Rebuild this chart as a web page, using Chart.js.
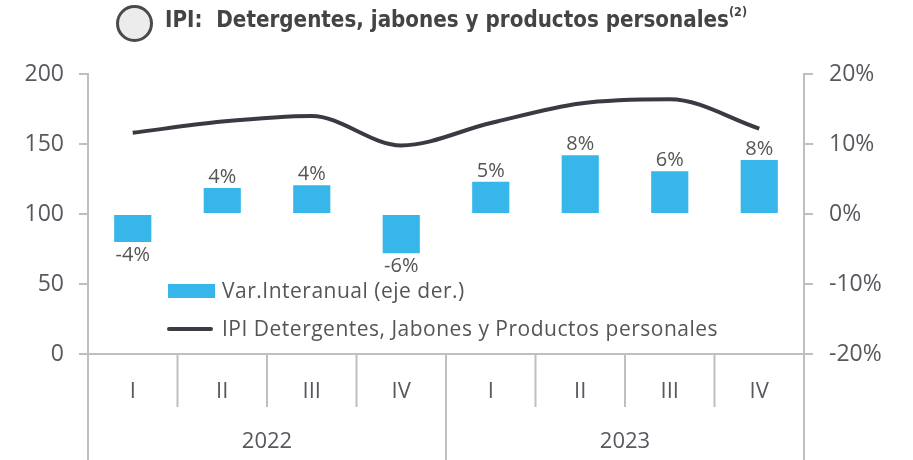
<!DOCTYPE html>
<html>
<head>
<meta charset="utf-8">
<script src="https://cdn.jsdelivr.net/npm/chart.js@4"></script>
<style>
html,body{margin:0;padding:0;background:#fff;}
#wrap{position:relative;width:913px;height:460px;overflow:hidden;}
#c{position:absolute;left:0;top:0;}
#title{position:absolute;left:165px;top:6px;font-family:"Liberation Sans Narrow","DejaVu Sans Condensed",sans-serif;font-weight:bold;font-size:23px;color:#444;white-space:nowrap;transform:scaleX(0.964);transform-origin:0 0;}
#title sup{font-size:13px;position:relative;top:-2px;}
#icon{position:absolute;left:116px;top:5px;width:31px;height:31px;border:3px solid #4a4a4a;border-radius:50%;background:#ececec;}
.lg{position:absolute;font-family:"Open Sans",sans-serif;font-size:21px;color:#555;white-space:nowrap;letter-spacing:0.5px;}
.sw{position:absolute;}
</style>
</head>
<body>
<div id="wrap">
<canvas id="c" width="913" height="460"></canvas>
<div id="icon"></div>
<div id="title">IPI:&nbsp; Detergentes, jabones y productos personales<sup>(2)</sup></div>
<div class="sw" style="left:168px;top:284px;width:47px;height:14px;background:#37b7e9;"></div>
<div class="lg" style="left:222px;top:276px;">Var.Interanual (eje der.)</div>
<div class="sw" style="left:167px;top:327px;width:46px;height:4px;background:#3c3c44;border-radius:2px;"></div>
<div class="lg" style="left:222px;top:314px;">IPI Detergentes, Jabones y Productos personales</div>
</div>
<script>
const quarters = ["I","II","III","IV","I","II","III","IV"];
const years = ["2022","2023"];
const ipi = [158, 166, 170, 149, 165, 179, 182, 161];
const varInteranual = [-4.0, 3.7, 4.1, -5.6, 4.6, 8.4, 6.1, 7.7];
const varLabels = ["-4%","4%","4%","-6%","5%","8%","6%","8%"];
const leftTicks = [0, 50, 100, 150, 200];
const rightTicks = [-20, -10, 0, 10, 20];

const GREY = '#bfbfbf';
const TXT = '#58585f';

const extras = {
  id: 'extras',
  afterDraw(chart) {
    const ctx = chart.ctx;
    const xs = chart.scales.x;
    const ca = chart.chartArea;
    const n = quarters.length;
    const w = xs.getPixelForValue(1) - xs.getPixelForValue(0);
    ctx.save();
    ctx.strokeStyle = GREY;
    ctx.lineWidth = 2;
    const H = chart.height;
    for (let i = 0; i <= n; i++) {
      const x = xs.getPixelForValue(0) - w / 2 + i * w;
      const yEnd = (i % 4 === 0) ? H : ca.bottom + 53;
      ctx.beginPath();
      ctx.moveTo(x, ca.bottom);
      ctx.lineTo(x, yEnd);
      ctx.stroke();
    }
    ctx.fillStyle = TXT;
    ctx.font = '22px "Open Sans", sans-serif';
    ctx.textAlign = 'center';
    ctx.textBaseline = 'middle';
    for (let i = 0; i < n; i++) {
      ctx.fillText(quarters[i], xs.getPixelForValue(i), ca.bottom + 38);
    }
    years.forEach((y, k) => {
      const x = (xs.getPixelForValue(k * 4) + xs.getPixelForValue(k * 4 + 3)) / 2;
      ctx.fillText(y, x, ca.bottom + 88);
    });
    // data labels
    const meta = chart.getDatasetMeta(0);
    ctx.font = '20px "Open Sans", sans-serif';
    ctx.fillStyle = '#555';
    meta.data.forEach((bar, i) => {
      const v = varInteranual[i];
      if (v >= 0) {
        ctx.textBaseline = 'bottom';
        ctx.fillText(varLabels[i], bar.x, bar.y - 1);
      } else {
        ctx.textBaseline = 'top';
        ctx.fillText(varLabels[i], bar.x, bar.y + 3);
      }
    });
    ctx.restore();
  }
};

new Chart(document.getElementById('c'), {
  data: {
    labels: quarters,
    datasets: [
      {
        type: 'bar',
        label: 'Var.Interanual (eje der.)',
        data: varInteranual,
        yAxisID: 'y2',
        backgroundColor: '#37b7e9',
        barPercentage: 0.415,
        categoryPercentage: 1,
        order: 2
      },
      {
        type: 'line',
        label: 'IPI Detergentes, Jabones y Productos personales',
        data: ipi,
        yAxisID: 'y',
        borderColor: '#3a3a42',
        borderWidth: 4,
        pointRadius: 0,
        tension: 0.45,
        cubicInterpolationMode: 'monotone',
        order: 1
      }
    ]
  },
  options: {
    responsive: false,
    animation: false,
    layout: { padding: { top: 74, bottom: 0, left: 0, right: 0 } },
    plugins: { legend: { display: false }, tooltip: { enabled: false } },
    scales: {
      x: {
        offset: true,
        ticks: { display: false },
        grid: { display: false, drawTicks: false },
        border: { display: true, color: GREY, width: 2 },
        afterFit(s) { s.height = 106; }
      },
      y: {
        position: 'left',
        min: 0, max: 200,
        afterBuildTicks(s) { s.ticks = leftTicks.map(v => ({ value: v })); },
        ticks: { color: TXT, font: { size: 23, family: '"Open Sans", sans-serif' }, padding: 15 },
        grid: { drawOnChartArea: false, drawTicks: true, tickLength: 9, color: GREY, lineWidth: 2 },
        border: { display: true, color: GREY, width: 2 },
        afterFit(s) { s.width = 88; }
      },
      y2: {
        position: 'right',
        min: -20, max: 20,
        afterBuildTicks(s) { s.ticks = rightTicks.map(v => ({ value: v })); },
        ticks: { color: TXT, font: { size: 23, family: '"Open Sans", sans-serif' }, padding: 16, callback: v => v + '%' },
        grid: { drawOnChartArea: false, drawTicks: true, tickLength: 9, color: GREY, lineWidth: 2 },
        border: { display: true, color: GREY, width: 2 },
        afterFit(s) { s.width = 109; }
      }
    }
  },
  plugins: [extras]
});
</script>
</body>
</html>
